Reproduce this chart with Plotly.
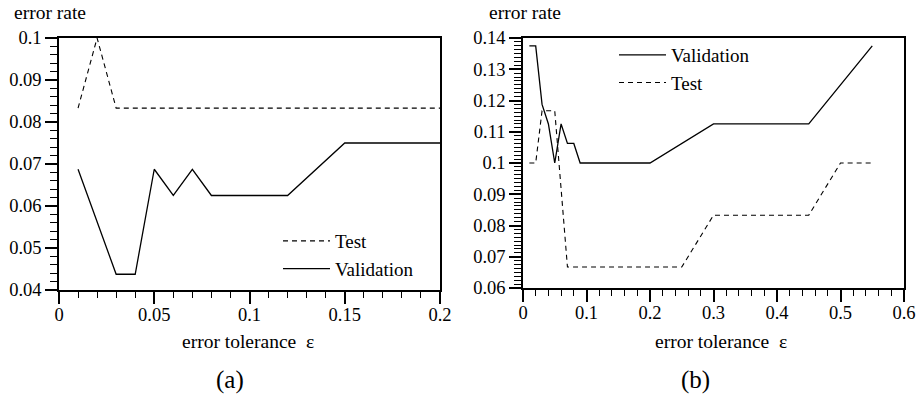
import plotly.graph_objects as go

# ---- data: panel (a) ----
a_test_x = [0.01, 0.02, 0.03, 0.2]
a_test_y = [0.0833, 0.1, 0.0833, 0.0833]
a_val_x = [0.01, 0.03, 0.04, 0.05, 0.06, 0.07, 0.08, 0.12, 0.15, 0.2]
a_val_y = [0.06875, 0.04375, 0.04375, 0.06875, 0.0625, 0.06875, 0.0625, 0.0625, 0.075, 0.075]

# ---- data: panel (b) ----
b_val_x = [0.01, 0.02, 0.03, 0.04, 0.05, 0.06, 0.07, 0.08, 0.09, 0.2, 0.3, 0.45, 0.55]
b_val_y = [0.1375, 0.1375, 0.11875, 0.1125, 0.1, 0.1125, 0.10625, 0.10625, 0.1, 0.1, 0.1125, 0.1125, 0.1375]
b_test_x = [0.01, 0.02, 0.03, 0.05, 0.07, 0.25, 0.3, 0.45, 0.5, 0.55]
b_test_y = [0.1, 0.1, 0.1167, 0.1167, 0.0667, 0.0667, 0.0833, 0.0833, 0.1, 0.1]

W, H = 916, 401
FONT = "Liberation Serif, Times New Roman, serif"
DASH = "5px,4px"

def px(x):
    return x / W

def py(y):
    return 1 - y / H

fig = go.Figure()
fig.add_trace(go.Scatter(x=a_test_x, y=a_test_y, mode="lines", name="Test",
                         line=dict(color="black", width=1.1, dash=DASH),
                         xaxis="x", yaxis="y", legend="legend"))
fig.add_trace(go.Scatter(x=a_val_x, y=a_val_y, mode="lines", name="Validation",
                         line=dict(color="black", width=1.3),
                         xaxis="x", yaxis="y", legend="legend"))
fig.add_trace(go.Scatter(x=b_val_x, y=b_val_y, mode="lines", name="Validation",
                         line=dict(color="black", width=1.3),
                         xaxis="x2", yaxis="y2", legend="legend2"))
fig.add_trace(go.Scatter(x=b_test_x, y=b_test_y, mode="lines", name="Test",
                         line=dict(color="black", width=1.1, dash=DASH),
                         xaxis="x2", yaxis="y2", legend="legend2"))

def axis_common():
    return dict(showgrid=False, zeroline=False, showline=True, linecolor="black",
                linewidth=1.6, mirror=True, ticks="outside", ticklen=12,
                tickwidth=1.5, tickcolor="black", automargin=False,
                tickfont=dict(family=FONT, size=18.5, color="black"))

xa = axis_common()
xa.update(domain=[px(59), px(440)], range=[0, 0.2], tick0=0, dtick=0.05, anchor="y",
          ticklabelstandoff=-5,
          minor=dict(dtick=0.01, ticks="outside", ticklen=6, tickwidth=1, tickcolor="black"))
ya = axis_common()
ya.update(domain=[py(290), py(38)], range=[0.04, 0.1], tick0=0.04, dtick=0.01, anchor="x",
          minor=dict(dtick=0.002, ticks="outside", ticklen=7, tickwidth=1, tickcolor="black"))
xb = axis_common()
xb.update(domain=[px(523), px(904)], range=[0, 0.6], tick0=0, dtick=0.1, anchor="y2",
          ticklabelstandoff=-5,
          minor=dict(dtick=0.02, ticks="outside", ticklen=6, tickwidth=1, tickcolor="black"))
yb = axis_common()
yb.update(domain=[py(288), py(38)], range=[0.06, 0.14], tick0=0.06, dtick=0.01, anchor="x2",
          minor=dict(dtick=0.00125, ticks="outside", ticklen=7, tickwidth=1, tickcolor="black"))

ann_font = dict(family=FONT, size=19.5, color="black")
sub_font = dict(family=FONT, size=25, color="black")
annotations = [
    dict(text="error rate", x=px(12), y=py(13), xref="paper", yref="paper",
         xanchor="left", yanchor="middle", showarrow=False, font=ann_font),
    dict(text="error rate", x=px(487), y=py(13), xref="paper", yref="paper",
         xanchor="left", yanchor="middle", showarrow=False, font=ann_font),
    dict(text="error tolerance  ε", x=px(248), y=py(341), xref="paper", yref="paper",
         xanchor="center", yanchor="middle", showarrow=False, font=ann_font),
    dict(text="error tolerance  ε", x=px(721), y=py(341), xref="paper", yref="paper",
         xanchor="center", yanchor="middle", showarrow=False, font=ann_font),
    dict(text="(a)", x=px(230), y=py(380), xref="paper", yref="paper",
         xanchor="center", yanchor="middle", showarrow=False, font=sub_font),
    dict(text="(b)", x=px(695), y=py(380), xref="paper", yref="paper",
         xanchor="center", yanchor="middle", showarrow=False, font=sub_font),
]

leg_font = dict(family=FONT, size=19, color="black")
fig.update_layout(
    width=W, height=H, margin=dict(l=0, r=0, t=0, b=0, autoexpand=False),
    paper_bgcolor="white", plot_bgcolor="white",
    xaxis=xa, yaxis=ya, xaxis2=xb, yaxis2=yb,
    showlegend=True,
    legend=dict(x=px(278), y=py(222), xanchor="left", yanchor="top", itemwidth=47,
                bgcolor="rgba(0,0,0,0)", font=leg_font, tracegroupgap=0),
    legend2=dict(x=px(614), y=py(36), xanchor="left", yanchor="top", itemwidth=47,
                 bgcolor="rgba(0,0,0,0)", font=leg_font, tracegroupgap=0),
    annotations=annotations,
)

fig.write_html("out.html", config={"displayModeBar": False},
               post_script="document.body.style.margin='0';document.body.style.overflow='hidden';")
